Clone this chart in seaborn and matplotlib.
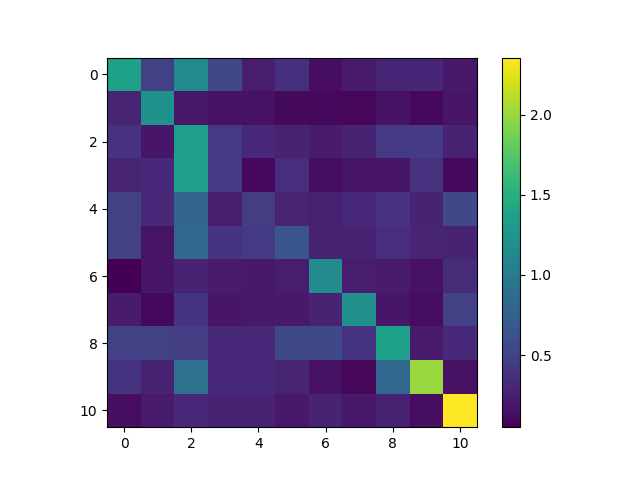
import numpy as np
import matplotlib
matplotlib.use("Agg")
import matplotlib.pyplot as plt
import seaborn as sns

# cell values, one list per row (row index = y, col index = x)
row0 = [1.35, 0.50, 1.15, 0.55, 0.23, 0.37, 0.14, 0.22, 0.30, 0.30, 0.20]
row1 = [0.28, 1.22, 0.20, 0.15, 0.15, 0.11, 0.10, 0.09, 0.15, 0.10, 0.17]
row2 = [0.38, 0.18, 1.33, 0.43, 0.32, 0.27, 0.22, 0.27, 0.45, 0.45, 0.27]
row3 = [0.28, 0.32, 1.33, 0.43, 0.10, 0.34, 0.13, 0.16, 0.18, 0.38, 0.10]
row4 = [0.50, 0.32, 0.78, 0.23, 0.46, 0.28, 0.25, 0.32, 0.38, 0.27, 0.55]
row5 = [0.50, 0.16, 0.82, 0.40, 0.43, 0.65, 0.27, 0.27, 0.34, 0.28, 0.27]
row6 = [0.05, 0.18, 0.27, 0.22, 0.20, 0.23, 1.15, 0.23, 0.22, 0.15, 0.33]
row7 = [0.22, 0.10, 0.39, 0.18, 0.20, 0.20, 0.27, 1.20, 0.18, 0.13, 0.50]
row8 = [0.50, 0.50, 0.46, 0.32, 0.32, 0.55, 0.55, 0.39, 1.35, 0.22, 0.32]
row9 = [0.39, 0.27, 0.90, 0.32, 0.32, 0.28, 0.15, 0.09, 0.80, 2.00, 0.15]
row10 = [0.13, 0.22, 0.32, 0.27, 0.27, 0.20, 0.27, 0.20, 0.27, 0.13, 2.356]

tick_pos = [0, 2, 4, 6, 8, 10]

matrix = np.array([row0, row1, row2, row3, row4, row5,
                   row6, row7, row8, row9, row10])

fig, ax = plt.subplots(figsize=(6.4, 4.8), dpi=100)
sns.heatmap(matrix, cmap="viridis", square=True, ax=ax,
            xticklabels=False, yticklabels=False)

# put back the imshow-like look: frame, ticks every 2 cells
for sp in ax.spines.values():
    sp.set_visible(True)
    sp.set_linewidth(0.8)
ax.set_xticks(np.array(tick_pos) + 0.5)
ax.set_xticklabels([str(t) for t in tick_pos])
ax.set_yticks(np.array(tick_pos) + 0.5)
ax.set_yticklabels([str(t) for t in tick_pos], rotation=0)
ax.tick_params(length=3.5, width=0.8, labelsize=10)

cbar = ax.collections[0].colorbar
cbar.outline.set_linewidth(0.8)
cbar.outline.set_visible(True)
cbar.ax.tick_params(length=3.5, width=0.8, labelsize=10)
cbar.set_ticks([0.5, 1.0, 1.5, 2.0])

fig.savefig("out.png")
